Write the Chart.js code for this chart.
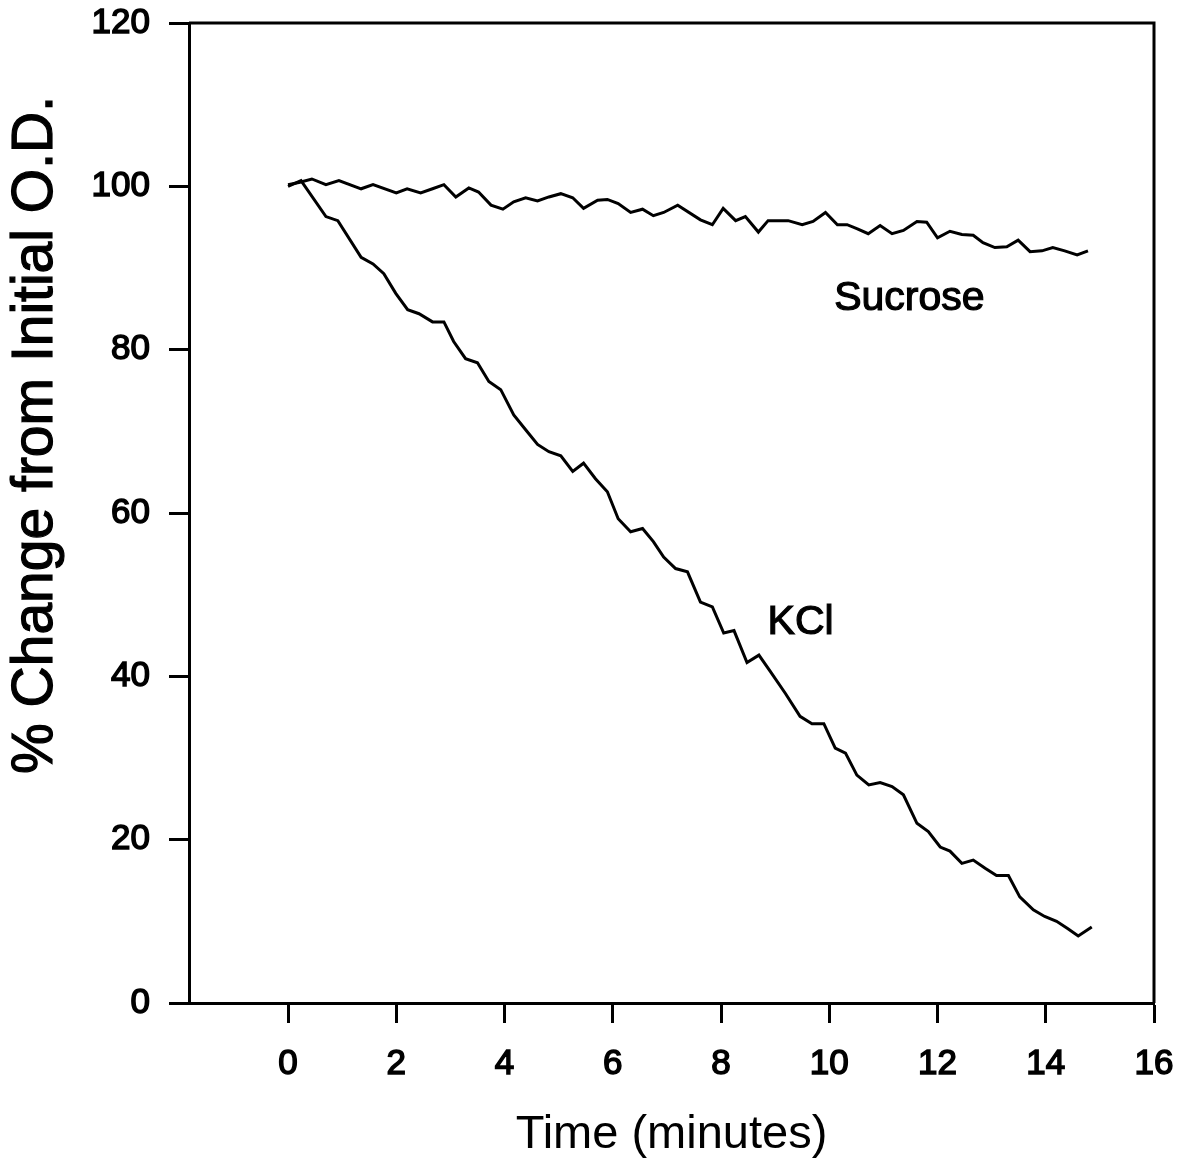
<!DOCTYPE html>
<html>
<head>
<meta charset="utf-8">
<script src="https://cdn.jsdelivr.net/npm/chart.js@4"></script>
<style>
  html, body { margin: 0; padding: 0; background: #fff; }
</style>
</head>
<body>
<canvas id="myChart" width="1182" height="1163"></canvas>
<script>
//tick values for the two axes
var xTicks = [0, 2, 4, 6, 8, 10, 12, 14, 16];
var yTicks = [0, 20, 40, 60, 80, 100, 120];

//Sucrose trace (minutes, % of initial O.D.)
var sucroseTime = [0.00, 0.22, 0.44, 0.70, 0.94, 1.35, 1.57, 2.00, 2.20, 2.45, 2.67, 2.88, 3.10, 3.34, 3.52, 3.75, 3.97, 4.17, 4.39, 4.61, 4.82, 5.04, 5.26, 5.46, 5.72, 5.90, 6.10, 6.33, 6.55, 6.75, 6.94, 7.20, 7.62, 7.84, 8.04, 8.27, 8.45, 8.69, 8.87, 9.24, 9.50, 9.70, 9.93, 10.15, 10.33, 10.52, 10.72, 10.94, 11.16, 11.37, 11.62, 11.80, 12.00, 12.23, 12.45, 12.66, 12.84, 13.06, 13.28, 13.49, 13.71, 13.93, 14.13, 14.35, 14.58, 14.78];
var sucroseValue = [100.2, 100.5, 100.9, 100.2, 100.7, 99.7, 100.2, 99.2, 99.7, 99.2, 99.7, 100.2, 98.7, 99.8, 99.3, 97.7, 97.2, 98.1, 98.6, 98.2, 98.7, 99.1, 98.6, 97.3, 98.3, 98.4, 97.9, 96.8, 97.2, 96.4, 96.8, 97.7, 95.9, 95.3, 97.3, 95.8, 96.3, 94.4, 95.8, 95.8, 95.3, 95.7, 96.8, 95.3, 95.3, 94.8, 94.2, 95.2, 94.2, 94.6, 95.7, 95.6, 93.7, 94.5, 94.1, 94.0, 93.1, 92.5, 92.6, 93.4, 92.0, 92.1, 92.5, 92.1, 91.6, 92.1];

//KCl trace
var kclTime = [0.00, 0.24, 0.70, 0.92, 1.35, 1.57, 1.77, 1.99, 2.21, 2.42, 2.67, 2.88, 3.06, 3.28, 3.50, 3.71, 3.93, 4.17, 4.39, 4.61, 4.82, 5.04, 5.26, 5.46, 5.68, 5.90, 6.10, 6.33, 6.55, 6.75, 6.94, 7.16, 7.38, 7.62, 7.84, 8.05, 8.24, 8.48, 8.70, 8.91, 9.19, 9.46, 9.68, 9.90, 10.11, 10.30, 10.51, 10.73, 10.94, 11.16, 11.37, 11.62, 11.83, 12.05, 12.23, 12.45, 12.66, 12.88, 13.09, 13.31, 13.52, 13.77, 13.98, 14.20, 14.41, 14.60, 14.85];
var kclValue = [100.0, 100.7, 96.3, 95.8, 91.3, 90.5, 89.3, 86.9, 84.9, 84.4, 83.4, 83.4, 81.0, 78.9, 78.4, 76.1, 75.1, 72.0, 70.2, 68.4, 67.5, 67.0, 65.1, 66.1, 64.2, 62.6, 59.3, 57.7, 58.1, 56.5, 54.6, 53.2, 52.8, 49.1, 48.5, 45.3, 45.6, 41.7, 42.6, 40.6, 37.9, 35.1, 34.2, 34.2, 31.2, 30.6, 27.9, 26.7, 27.0, 26.5, 25.5, 22.0, 21.0, 19.1, 18.6, 17.1, 17.5, 16.5, 15.6, 15.6, 13.0, 11.4, 10.6, 10.0, 9.1, 8.2, 9.3];

//curve labels, placed in data coordinates
var curveLabels = [
    { text: 'Sucrose', x: 11.48, y: 86.3 },
    { text: 'KCl', x: 9.47, y: 46.6 }
];

function toPoints(xs, ys) {
    return xs.map(function (x, i) { return { x: x, y: ys[i] }; });
}

var FONT = "'Liberation Sans', Arial, sans-serif";
Chart.defaults.font.family = FONT;
Chart.defaults.color = '#000';

//draws the top/right frame, the y title and the curve labels
var extras = {
    id: 'extras',
    afterDraw: function (chart) {
        var ctx = chart.ctx;
        var a = chart.chartArea;
        ctx.save();
        ctx.strokeStyle = '#000';
        ctx.lineWidth = 3;
        ctx.beginPath();
        ctx.moveTo(a.left, a.top);
        ctx.lineTo(a.right, a.top);
        ctx.lineTo(a.right, a.bottom);
        ctx.stroke();

        ctx.fillStyle = '#000';
        ctx.lineWidth = 1.2;
        ctx.font = '41px ' + FONT;
        ctx.textAlign = 'center';
        ctx.textBaseline = 'middle';
        curveLabels.forEach(function (l) {
            var px = chart.scales.x.getPixelForValue(l.x);
            var py = chart.scales.y.getPixelForValue(l.y);
            ctx.fillText(l.text, px, py);
            ctx.strokeText(l.text, px, py);
        });

        ctx.translate(36, 435);
        ctx.rotate(-Math.PI / 2);
        ctx.font = '57px ' + FONT;
        ctx.fillText('% Change from Initial O.D.', 0, 0);
        ctx.strokeText('% Change from Initial O.D.', 0, 0);
        ctx.restore();
    }
};

var ctx = document.getElementById('myChart').getContext('2d');

var myChart = new Chart(ctx, {
    type: 'line',
    data: {
        datasets: [{
            label: 'Sucrose',
            data: toPoints(sucroseTime, sucroseValue),
            borderColor: '#000',
            borderWidth: 3,
            pointRadius: 0,
            tension: 0
        }, {
            label: 'KCl',
            data: toPoints(kclTime, kclValue),
            borderColor: '#000',
            borderWidth: 3,
            pointRadius: 0,
            tension: 0
        }]
    },
    options: {
        responsive: false,
        devicePixelRatio: 1,
        animation: false,
        layout: {
            padding: { top: 23, right: 28, left: 0, bottom: 0 }
        },
        plugins: {
            legend: { display: false },
            tooltip: { enabled: false }
        },
        scales: {
            x: {
                type: 'linear',
                min: -1.83,
                max: 16,
                afterBuildTicks: function (s) {
                    s.ticks = xTicks.map(function (v) { return { value: v }; });
                },
                afterFit: function (s) {
                    s.height = 160;
                    s.paddingLeft = 0;
                    s.paddingRight = 0;
                },
                ticks: {
                    font: { size: 35 },
                    padding: 20,
                    maxRotation: 0,
                    autoSkip: false,
                    textStrokeWidth: 1.5,
                    textStrokeColor: '#000'
                },
                grid: {
                    drawOnChartArea: false,
                    tickLength: 20,
                    tickWidth: 3,
                    tickColor: '#000'
                },
                border: { display: true, color: '#000', width: 3 },
                title: {
                    display: true,
                    text: 'Time (minutes)',
                    font: { size: 47 },
                    padding: { top: 0, bottom: 0 }
                }
            },
            y: {
                min: 0,
                max: 120,
                afterBuildTicks: function (s) {
                    s.ticks = yTicks.map(function (v) { return { value: v }; });
                },
                afterFit: function (s) {
                    s.width = 189;
                    s.paddingTop = 0;
                    s.paddingBottom = 0;
                },
                ticks: {
                    font: { size: 35 },
                    padding: 19,
                    textStrokeWidth: 1.5,
                    textStrokeColor: '#000'
                },
                grid: {
                    drawOnChartArea: false,
                    tickLength: 20,
                    tickWidth: 3,
                    tickColor: '#000'
                },
                border: { display: true, color: '#000', width: 3 }
            }
        }
    },
    plugins: [extras]
});
</script>
</body>
</html>
